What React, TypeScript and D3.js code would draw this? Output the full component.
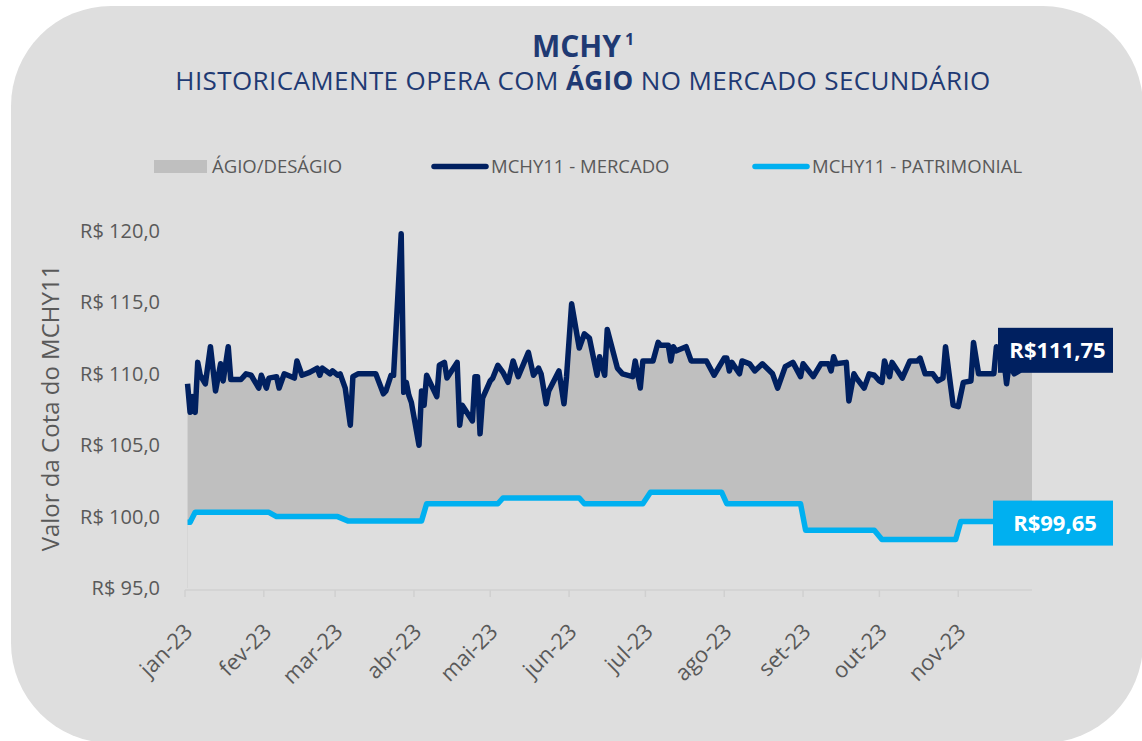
import React, { useRef, useEffect } from 'react';
import * as d3 from 'd3';

// cotação de mercado (dia, valor)
const mercadoDates = [
  '2023-01-02', '2023-01-03', '2023-01-04', '2023-01-05', '2023-01-06', '2023-01-07', '2023-01-09', '2023-01-11', '2023-01-13',
  '2023-01-15', '2023-01-16', '2023-01-18', '2023-01-19', '2023-01-23', '2023-01-25', '2023-01-27', '2023-01-30', '2023-01-31',
  '2023-02-02', '2023-02-03', '2023-02-06', '2023-02-07', '2023-02-09', '2023-02-13', '2023-02-14', '2023-02-16', '2023-02-19',
  '2023-02-22', '2023-02-23', '2023-02-24', '2023-02-27', '2023-02-28',
  '2023-03-02', '2023-03-03', '2023-03-05', '2023-03-07', '2023-03-08', '2023-03-10', '2023-03-17', '2023-03-20', '2023-03-21',
  '2023-03-23', '2023-03-24', '2023-03-27', '2023-03-28', '2023-03-29', '2023-03-30', '2023-03-31',
  '2023-04-03', '2023-04-04', '2023-04-05', '2023-04-06', '2023-04-10', '2023-04-11', '2023-04-13', '2023-04-14', '2023-04-18',
  '2023-04-19', '2023-04-20', '2023-04-24', '2023-04-25', '2023-04-26', '2023-04-27', '2023-04-28',
  '2023-05-01', '2023-05-02', '2023-05-04', '2023-05-06', '2023-05-08', '2023-05-10', '2023-05-12', '2023-05-16', '2023-05-18',
  '2023-05-20', '2023-05-21', '2023-05-23', '2023-05-24', '2023-05-28', '2023-05-30', '2023-05-31',
  '2023-06-02', '2023-06-05', '2023-06-07', '2023-06-09', '2023-06-12', '2023-06-13', '2023-06-15', '2023-06-16', '2023-06-20',
  '2023-06-22', '2023-06-26', '2023-06-27', '2023-06-29', '2023-06-30',
  '2023-07-04', '2023-07-06', '2023-07-07', '2023-07-10', '2023-07-11', '2023-07-12', '2023-07-13', '2023-07-17', '2023-07-19',
  '2023-07-25', '2023-07-28',
  '2023-08-01', '2023-08-02', '2023-08-03', '2023-08-04', '2023-08-07', '2023-08-08', '2023-08-11', '2023-08-13', '2023-08-16',
  '2023-08-20', '2023-08-22', '2023-08-25', '2023-08-28', '2023-08-31',
  '2023-09-01', '2023-09-05', '2023-09-08', '2023-09-11', '2023-09-12', '2023-09-13', '2023-09-14', '2023-09-18', '2023-09-19',
  '2023-09-21', '2023-09-22', '2023-09-25', '2023-09-27', '2023-09-29',
  '2023-10-01', '2023-10-02', '2023-10-03', '2023-10-05', '2023-10-06', '2023-10-10', '2023-10-13', '2023-10-16', '2023-10-17',
  '2023-10-19', '2023-10-22', '2023-10-24', '2023-10-26', '2023-10-27', '2023-10-30',
  '2023-11-01', '2023-11-03', '2023-11-06', '2023-11-07', '2023-11-09', '2023-11-15', '2023-11-16', '2023-11-19', '2023-11-20',
  '2023-11-21', '2023-11-23', '2023-11-25', '2023-11-30',
];
const mercadoValues = [
  109.3, 107.3, 108.4, 107.3, 110.8, 109.9, 109.3, 111.9, 108.8, 110.7, 109.5, 111.9, 109.6, 109.6, 110.0, 109.9, 109.0, 109.9,
  109.0, 109.7, 109.8, 109.0, 110.0, 109.7, 110.9, 109.9, 110.1, 110.4, 109.9, 110.4, 110.0, 110.2,
  109.9, 110.0, 109.0, 106.4, 109.8, 110.0, 110.0, 108.6, 108.8, 109.9, 109.9, 119.8, 108.7, 109.4, 108.5, 108.0,
  105.0, 108.8, 107.8, 109.9, 108.4, 110.6, 110.8, 109.7, 110.8, 106.4, 107.8, 106.7, 109.8, 109.8, 105.8, 108.3,
  109.5, 109.7, 110.6, 110.1, 109.4, 110.9, 109.8, 111.5, 109.9, 110.4, 110.0, 107.9, 108.8, 110.2, 107.9, 109.8,
  114.9, 111.8, 112.8, 112.5, 109.9, 111.2, 109.9, 113.1, 110.4, 110.0, 109.8, 110.9, 109.0, 110.9,
  110.9, 112.2, 112.0, 112.0, 110.9, 111.9, 111.6, 111.9, 110.9, 110.9, 109.9,
  111.1, 111.1, 110.2, 110.8, 110.0, 110.9, 110.7, 110.2, 110.7, 110.0, 109.0, 110.5, 110.8, 109.8,
  110.7, 109.8, 110.7, 110.7, 110.2, 111.2, 110.7, 110.8, 108.1, 110.0, 109.7, 109.0, 110.0, 109.9,
  109.5, 109.4, 110.9, 109.8, 110.8, 109.7, 110.9, 110.9, 111.1, 110.0, 110.0, 109.5, 109.7, 111.9, 107.8,
  107.7, 109.4, 109.5, 112.2, 110.0, 110.0, 111.9, 110.9, 109.3, 110.7, 110.0, 110.2, 111.75,
];

// valor patrimonial da cota
const patrimonialDates = [
  '2023-01-02', '2023-01-03', '2023-01-05', '2023-02-03', '2023-02-06', '2023-03-02', '2023-03-06', '2023-04-04',
  '2023-04-06', '2023-05-04', '2023-05-06', '2023-06-05', '2023-06-07', '2023-06-30', '2023-07-03', '2023-07-31',
  '2023-08-02', '2023-08-31', '2023-09-02', '2023-09-29', '2023-10-02', '2023-10-31', '2023-11-02', '2023-11-30',
];
const patrimonialValues = [
  99.6, 99.6, 100.3, 100.3, 100.0, 100.0, 99.7, 99.7,
  100.9, 100.9, 101.3, 101.3, 100.9, 100.9, 101.7, 101.7,
  100.9, 100.9, 99.05, 99.05, 98.4, 98.4, 99.65, 99.65,
];

const monthLabels = ['jan-23', 'fev-23', 'mar-23', 'abr-23', 'mai-23', 'jun-23', 'jul-23', 'ago-23', 'set-23', 'out-23', 'nov-23'];
const yTicks = [95, 100, 105, 110, 115, 120];
const legendLabels = ['ÁGIO/DESÁGIO', 'MCHY11 - MERCADO', 'MCHY11 - PATRIMONIAL'];

const BG = '#dedede';
const NAVY = '#002060';
const CYAN = '#00b0f0';
const GREY_TEXT = '#595959';
const FONT = '"Open Sans", sans-serif';

const App = () => {
  const ref = useRef(null);

  useEffect(() => {
    const parse = d3.timeParse('%Y-%m-%d');
    const mercado = mercadoDates.map((d, i) => ({ date: parse(d), value: mercadoValues[i] }));
    const patrimonial = patrimonialDates.map((d, i) => ({ date: parse(d), value: patrimonialValues[i] }));

    const svg = d3.select(ref.current);
    svg.selectAll('*').remove();

    // painel de fundo
    svg.append('rect')
      .attr('x', 11).attr('y', 6)
      .attr('width', 1132).attr('height', 737)
      .attr('rx', 100).attr('ry', 100)
      .attr('fill', BG);

    const x = d3.scaleTime()
      .domain([new Date(2023, 0, 1), new Date(2023, 10, 30)])
      .range([185, 1032]);
    const y = d3.scaleLinear().domain([95, 120]).range([588, 231]);

    // título
    const title = svg.append('text')
      .attr('x', 583).attr('y', 57)
      .attr('text-anchor', 'middle')
      .attr('font-family', FONT)
      .attr('font-weight', 700)
      .attr('font-size', 30)
      .attr('fill', '#1f3a73');
    title.append('tspan').text('MCHY');
    title.append('tspan').attr('font-size', 16).attr('dx', 4).attr('dy', -12).text('1');

    const sub = svg.append('text')
      .attr('x', 583).attr('y', 90)
      .attr('text-anchor', 'middle')
      .attr('font-family', FONT)
      .attr('font-size', 26)
      .attr('letter-spacing', 0.4)
      .attr('fill', '#1f3a73')
      .style('white-space', 'pre');
    sub.append('tspan').text('HISTORICAMENTE OPERA COM ');
    sub.append('tspan').attr('font-weight', 700).text('ÁGIO');
    sub.append('tspan').text(' NO MERCADO SECUNDÁRIO');

    // legenda
    const legend = svg.append('g').attr('font-family', FONT).attr('font-size', 18.5).attr('fill', GREY_TEXT);
    legend.append('rect').attr('x', 154).attr('y', 160).attr('width', 53).attr('height', 13).attr('fill', '#bfbfbf');
    legend.append('text').attr('x', 212).attr('y', 172.5).text(legendLabels[0]);
    legend.append('line').attr('x1', 434).attr('x2', 486).attr('y1', 166.5).attr('y2', 166.5)
      .attr('stroke', NAVY).attr('stroke-width', 5.5).attr('stroke-linecap', 'round');
    legend.append('text').attr('x', 491).attr('y', 172.5).text(legendLabels[1]);
    legend.append('line').attr('x1', 755).attr('x2', 807).attr('y1', 166.5).attr('y2', 166.5)
      .attr('stroke', CYAN).attr('stroke-width', 5.5).attr('stroke-linecap', 'round');
    legend.append('text').attr('x', 812).attr('y', 172.5).text(legendLabels[2]);

    // área de ágio: mercado até a base, depois tapa abaixo do patrimonial
    const areaGen = d3.area()
      .x(d => x(d.date))
      .y0(y(95))
      .y1(d => y(d.value));
    svg.append('path').datum(mercado).attr('d', areaGen).attr('fill', '#bfbfbf');
    svg.append('path').datum(patrimonial).attr('d', areaGen).attr('fill', BG);

    // eixo x
    svg.append('line')
      .attr('x1', 185).attr('x2', 1032)
      .attr('y1', 590).attr('y2', 590)
      .attr('stroke', '#d0d0d0').attr('stroke-width', 1.5);
    const months = d3.timeMonth.range(new Date(2023, 0, 1), new Date(2023, 11, 1));
    const tickG = svg.append('g');
    tickG.selectAll('line')
      .data(months)
      .enter()
      .append('line')
      .attr('x1', d => x(d)).attr('x2', d => x(d))
      .attr('y1', 590).attr('y2', 597)
      .attr('stroke', '#d0d0d0').attr('stroke-width', 1.5);
    tickG.selectAll('text')
      .data(months)
      .enter()
      .append('text')
      .attr('transform', d => `translate(${x(d) + 9}, 633) rotate(-45)`)
      .attr('text-anchor', 'end')
      .attr('font-family', FONT)
      .attr('font-size', 22)
      .attr('fill', GREY_TEXT)
      .text((d, i) => monthLabels[i]);

    // eixo y
    svg.append('g')
      .selectAll('text')
      .data(yTicks)
      .enter()
      .append('text')
      .attr('x', 160)
      .attr('y', d => y(d))
      .attr('dy', '0.35em')
      .attr('text-anchor', 'end')
      .attr('font-family', FONT)
      .attr('font-size', 20)
      .attr('fill', GREY_TEXT)
      .text(d => `R$ ${d.toFixed(1).replace('.', ',')}`);

    svg.append('text')
      .attr('transform', `translate(59, 408) rotate(-90)`)
      .attr('text-anchor', 'middle')
      .attr('font-family', FONT)
      .attr('font-size', 24)
      .attr('fill', GREY_TEXT)
      .text('Valor da Cota do MCHY11');

    // linhas
    const lineGen = d3.line()
      .x(d => x(d.date))
      .y(d => y(d.value));
    svg.append('path').datum(patrimonial).attr('d', lineGen)
      .attr('fill', 'none').attr('stroke', CYAN).attr('stroke-width', 5.5).attr('stroke-linejoin', 'round');
    svg.append('path').datum(mercado).attr('d', lineGen)
      .attr('fill', 'none').attr('stroke', NAVY).attr('stroke-width', 5.5).attr('stroke-linejoin', 'round');

    // rótulos do último valor
    const fmt = v => `R$${v.toFixed(2).replace('.', ',')}`;
    const lastM = mercado[mercado.length - 1];
    const lastP = patrimonial[patrimonial.length - 1];
    const labels = [
      { v: lastM.value, x0: x(lastM.date) - 34, cy: y(lastM.value) + 1.5, fill: NAVY },
      { v: lastP.value, x0: x(lastP.date) - 39, cy: y(lastP.value) + 1.5, fill: CYAN },
    ];
    const lab = svg.append('g').selectAll('g').data(labels).enter().append('g');
    lab.append('rect')
      .attr('x', d => d.x0).attr('y', d => d.cy - 22.5)
      .attr('width', d => 1113 - d.x0).attr('height', 45)
      .attr('fill', d => d.fill);
    lab.append('text')
      .attr('x', d => (d.x0 + 1113) / 2 + 2)
      .attr('y', d => d.cy)
      .attr('dy', '0.36em')
      .attr('text-anchor', 'middle')
      .attr('font-family', FONT)
      .attr('font-weight', 700)
      .attr('font-size', 22)
      .attr('fill', 'white')
      .text(d => fmt(d.v));
  }, []);

  return (
    <svg ref={ref} width={1142} height={741} style={{ position: 'absolute', left: 0, top: 0, background: 'white' }} />
  );
};

export default App;
